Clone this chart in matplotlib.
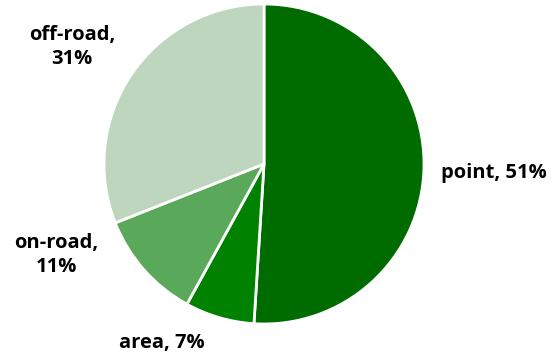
import matplotlib.pyplot as plt

# emission shares by source type
sources = ["point", "area", "on-road", "off-road"]
shares = [51, 7, 11, 31]
colors = ["#006c00", "#008200", "#5aa95a", "#bdd6bd"]

# label anchors (pixels, y up) and line breaks
label_text = ["point, 51%", "area, 7%", "on-road,\n11%", "off-road,\n31%"]
label_pos = [(494, 185), (162, 15), (56, 103), (72, 311)]

fig = plt.figure(figsize=(5.57, 3.58), dpi=100)
ax = fig.add_axes([0, 0, 1, 1])

ax.pie(shares, colors=colors, startangle=90, counterclock=False,
       center=(264, 194), radius=160,
       wedgeprops=dict(edgecolor="white", linewidth=2))

for txt, (x, y) in zip(label_text, label_pos):
    ax.text(x, y, txt, ha="center", va="center", fontsize=14.5,
            fontweight="bold", family="Open Sans", linespacing=1.32)

ax.set_xlim(0, 557)
ax.set_ylim(0, 358)
ax.set_aspect("equal")
ax.axis("off")

fig.savefig("out.png", dpi=100)
